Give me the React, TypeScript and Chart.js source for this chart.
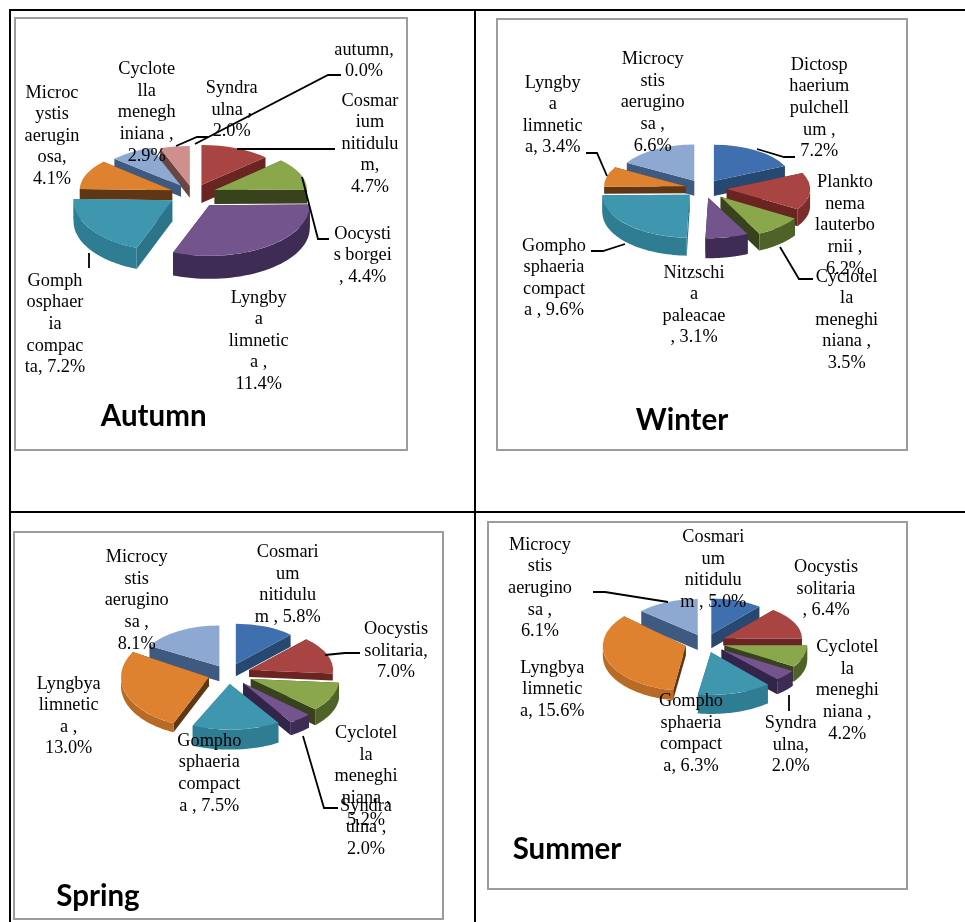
import React, { useEffect, useRef } from "react";
import { Chart, registerables } from "chart.js";

Chart.register(...registerables);

// Percentages per season, clockwise from twelve o'clock.
const autumnValues = [4.7, 4.4, 11.4, 7.2, 4.1, 2.9, 2.0, 0.0];
const winterValues = [7.2, 6.2, 3.5, 3.1, 9.6, 3.4, 6.6];
const springValues = [5.8, 7.0, 5.2, 2.0, 7.5, 13.0, 8.1];
const summerValues = [5.0, 6.4, 4.2, 2.0, 6.3, 15.6, 6.1];

// Wrapped label text; {v} stands for the slice's value.
const autumnLabels = [
  ["Cosmar", "ium", "nitidulu", "m,", "{v}"],
  ["Oocysti", "s borgei", ", {v}"],
  ["Lyngby", "a", "limnetic", "a ,", "{v}"],
  ["Gomph", "osphaer", "ia", "compac", "ta, {v}"],
  ["Microc", "ystis", "aerugin", "osa,", "{v}"],
  ["Cyclote", "lla", "menegh", "iniana ,", "{v}"],
  ["Syndra", "ulna ,", "{v}"],
  ["autumn,", "{v}"],
];
const winterLabels = [
  ["Dictosp", "haerium", "pulchell", "um ,", "{v}"],
  ["Plankto", "nema", "lauterbo", "rnii ,", "{v}"],
  ["Cyclotel", "la", "meneghi", "niana ,", "{v}"],
  ["Nitzschi", "a", "paleacae", ", {v}"],
  ["Gompho", "sphaeria", "compact", "a , {v}"],
  ["Lyngby", "a", "limnetic", "a, {v}"],
  ["Microcy", "stis", "aerugino", "sa ,", "{v}"],
];
const springLabels = [
  ["Cosmari", "um", "nitidulu", "m , {v}"],
  ["Oocystis", "solitaria,", "{v}"],
  ["Cyclotel", "la", "meneghi", "niana ,", "{v}"],
  ["Syndra", "ulna ,", "{v}"],
  ["Gompho", "sphaeria", "compact", "a , {v}"],
  ["Lyngbya", "limnetic", "a ,", "{v}"],
  ["Microcy", "stis", "aerugino", "sa ,", "{v}"],
];
const summerLabels = [
  ["Cosmari", "um", "nitidulu", "m , {v}"],
  ["Oocystis", "solitaria", ", {v}"],
  ["Cyclotel", "la", "meneghi", "niana ,", "{v}"],
  ["Syndra", "ulna,", "{v}"],
  ["Gompho", "sphaeria", "compact", "a, {v}"],
  ["Lyngbya", "limnetic", "a, {v}"],
  ["Microcy", "stis", "aerugino", "sa ,", "{v}"],
];

// Face, rim and cut-face shades for each series colour.
const BLUE = ["#3F6FAE", "#2C4F80", "#274870"];
const RED = ["#A84442", "#7A2D2B", "#6A2422"];
const GREEN = ["#8AA84B", "#4F6227", "#38421C"];
const PURPLE = ["#73548C", "#3E2C55", "#33244A"];
const TEAL = ["#3F97AF", "#2F7D92", "#2C7489"];
const ORANGE = ["#DE8230", "#B96A24", "#5F3714"];
const SKY = ["#8DA9D2", "#5E7BA6", "#3F5A80"];
const PINK = ["#CF8F8D", "#A06C6A", "#6B4544"];

type Panel = {
  title: string;
  values: number[];
  labels: string[][];
  shades: string[][];
  box: number[]; // x, y, width, height of the framed chart
  center: number[];
  radius: number;
  squash: number;
  widen: number;
  tilt: number;
  explode: number[];
  depth: number[];
  stretch: number[]; // per-slice vertical adjustment of the tilt
  labelAt: number[][]; // centre x, first-line y
  titleAt: number[];
  leaders: number[][][];
};

const panels: Panel[] = [
  {
    title: "Autumn",
    values: autumnValues,
    labels: autumnLabels,
    shades: [RED, GREEN, PURPLE, TEAL, ORANGE, SKY, PINK, BLUE],
    box: [14, 17, 394, 434],
    center: [193, 194],
    radius: 95,
    squash: 0.465,
    widen: 0.07,
    tilt: 0.1,
    explode: [23, 24, 27, 24, 23, 23, 20, 20],
    depth: [18, 14, 23, 21, 10, 11, 12, 0],
    stretch: [1, 1, 1.06, 1.09, 1, 1, 1, 1],
    labelAt: [[370, 100.7], [362.7, 234], [258.7, 297.7], [55, 281], [52, 92.7], [146.7, 69.3], [231.7, 88.3], [364, 50]],
    titleAt: [153.7, 416],
    leaders: [
      [[341, 75], [328, 75], [195, 144]],
      [[208, 137], [197, 137], [176, 146]],
      [[335, 149], [237, 149]],
      [[329, 239], [318, 239], [302, 177]],
      [[89, 253], [89, 268]],
    ],
  },
  {
    title: "Winter",
    values: winterValues,
    labels: winterLabels,
    shades: [BLUE, RED, GREEN, PURPLE, TEAL, ORANGE, SKY],
    box: [496, 18, 412, 433],
    center: [703.7, 188.3],
    radius: 83,
    squash: 0.46,
    widen: 0.07,
    tilt: 0.06,
    explode: [20, 23, 24, 20, 19, 19, 20],
    depth: [15, 17, 17, 20, 18, 7, 15],
    stretch: [1, 1, 1.03, 1, 1.08, 1, 1],
    labelAt: [[819.3, 65], [845, 182.3], [846.7, 276.7], [694, 272.7], [554, 245.7], [552.7, 82.7], [652.7, 59.3]],
    titleAt: [682, 420.7],
    leaders: [
      [[795, 157], [784, 157], [757, 149]],
      [[813, 279], [799, 279], [780, 247]],
      [[591, 251], [603, 251], [625, 244]],
      [[586, 153], [597, 153], [607, 176]],
    ],
  },
  {
    title: "Spring",
    values: springValues,
    labels: springLabels,
    shades: [BLUE, RED, GREEN, PURPLE, TEAL, ORANGE, SKY],
    box: [13, 531, 431, 389],
    center: [228.3, 674],
    radius: 86,
    squash: 0.5,
    widen: 0.07,
    tilt: 0.06,
    explode: [22, 23, 24, 22, 19, 20, 19],
    depth: [12, 7, 16, 13, 20, 9, 15],
    stretch: [1, 1, 1, 1.03, 1, 1.15, 1],
    labelAt: [[287.7, 552.3], [396, 629.3], [366, 733.3], [366, 805.7], [209.3, 741], [68.7, 683.7], [136.7, 557.3]],
    titleAt: [98, 896.7],
    leaders: [
      [[360, 653], [345, 653], [325, 655]],
      [[338, 808], [324, 808], [303, 736]],
    ],
  },
  {
    title: "Summer",
    values: summerValues,
    labels: summerLabels,
    shades: [BLUE, RED, GREEN, PURPLE, TEAL, ORANGE, SKY],
    box: [487, 521, 421, 369],
    center: [705, 642.7],
    radius: 81,
    squash: 0.47,
    widen: 0.07,
    tilt: 0.06,
    explode: [20, 21, 20, 21, 20, 20, 19],
    depth: [14, 7, 15, 15, 19, 10, 15],
    stretch: [1, 1, 1, 1, 1.06, 1.15, 1],
    labelAt: [[713.3, 537.3], [826, 567.3], [847.3, 647.3], [790.7, 723.3], [691, 701.3], [552.3, 667.7], [540, 545]],
    titleAt: [567, 849.3],
    leaders: [
      [[593, 592], [605, 592], [668, 602]],
      [[789, 695], [789, 711]],
    ],
  },
];

// Draws the arcs as tilted, extruded wedges and adds labels, leaders and the season name.
function piePlugin(panel: Panel) {
  const [ox, oy] = panel.box;
  return {
    id: "tiltedPie",
    beforeDatasetDraw(chart: any) {
      const ctx: CanvasRenderingContext2D = chart.ctx;
      const arcs: any[] = chart.getDatasetMeta(0).data;
      const order = arcs
        .map((arc, i) => ({ arc, i, mid: (arc.startAngle + arc.endAngle) / 2 }))
        .filter((o) => o.arc.endAngle - o.arc.startAngle > 0)
        .sort((a, b) => Math.sin(a.mid) - Math.sin(b.mid));

      for (const { arc, i, mid } of order) {
        const front = Math.sin(mid);
        const sx = 1 + panel.widen * front;
        const sy = panel.squash * (1 + panel.tilt * front) * panel.stretch[i];
        const e = panel.explode[i];
        const cx = arc.x + e * Math.cos(mid) * sx;
        const cy = arc.y + e * Math.sin(mid) * panel.squash * (1 + panel.tilt * front);
        const r = arc.outerRadius;
        const d = panel.depth[i];
        const [, rim, cut] = panel.shades[i];
        const at = (a: number) => [cx + r * Math.cos(a) * sx, cy + r * Math.sin(a) * sy];

        // Cut faces along both straight edges.
        ctx.fillStyle = cut;
        for (const a of [arc.startAngle, arc.endAngle]) {
          const [px, py] = at(a);
          ctx.beginPath();
          ctx.moveTo(cx, cy);
          ctx.lineTo(px, py);
          ctx.lineTo(px, py + d);
          ctx.lineTo(cx, cy + d);
          ctx.closePath();
          ctx.fill();
        }

        // Outer rim, for the part of the arc that faces the viewer.
        const from = Math.max(arc.startAngle, 0);
        const to = Math.min(arc.endAngle, Math.PI);
        if (to > from) {
          const steps = 40;
          ctx.fillStyle = rim;
          ctx.beginPath();
          for (let s = 0; s <= steps; s++) {
            const [px, py] = at(from + ((to - from) * s) / steps);
            if (s === 0) ctx.moveTo(px, py);
            else ctx.lineTo(px, py);
          }
          for (let s = steps; s >= 0; s--) {
            const [px, py] = at(from + ((to - from) * s) / steps);
            ctx.lineTo(px, py + d);
          }
          ctx.closePath();
          ctx.fill();
        }

        // Top face, drawn by the arc element through the tilt transform.
        ctx.save();
        ctx.translate(cx, cy);
        ctx.scale(sx, sy);
        ctx.translate(-arc.x, -arc.y);
        arc.draw(ctx);
        ctx.restore();
      }
      return false;
    },
    afterDraw(chart: any) {
      const ctx: CanvasRenderingContext2D = chart.ctx;
      ctx.save();
      ctx.strokeStyle = "#000";
      ctx.lineWidth = 1.8;
      for (const line of panel.leaders) {
        ctx.beginPath();
        line.forEach(([x, y], n) => (n ? ctx.lineTo(x - ox, y - oy) : ctx.moveTo(x - ox, y - oy)));
        ctx.stroke();
      }
      ctx.fillStyle = "#000";
      ctx.textAlign = "center";
      ctx.textBaseline = "middle";
      ctx.font = "18.3px 'Liberation Serif'";
      panel.labels.forEach((lines, i) => {
        const [x, y] = panel.labelAt[i];
        const text = `${panel.values[i].toFixed(1)}%`;
        lines.forEach((line, n) => {
          ctx.fillText(line.replace("{v}", text), x - ox, y - oy + n * 21.6);
        });
      });
      ctx.font = "bold 29.5px Lato";
      ctx.fillText(panel.title, panel.titleAt[0] - ox, panel.titleAt[1] - oy);
      ctx.restore();
    },
  };
}

function PieCanvas({ panel }: { panel: Panel }) {
  const ref = useRef<HTMLCanvasElement>(null);
  useEffect(() => {
    const [x, y, w, h] = panel.box;
    const cx = panel.center[0] - x;
    const cy = panel.center[1] - y;
    const r = panel.radius;
    const chart = new Chart(ref.current!, {
      type: "pie",
      data: {
        labels: panel.labels.map((l) => l.join(" ")),
        datasets: [
          {
            data: panel.values,
            backgroundColor: panel.shades.map((s) => s[0]),
            borderWidth: 0,
            offset: 0,
            hoverOffset: 0,
          },
        ],
      },
      options: {
        animation: false,
        responsive: false,
        devicePixelRatio: 1,
        layout: {
          padding: { left: cx - r, right: w - cx - r, top: cy - r, bottom: h - cy - r },
        },
        plugins: { legend: { display: false }, tooltip: { enabled: false } },
      },
      plugins: [piePlugin(panel)],
    } as any);
    return () => chart.destroy();
  }, [panel]);
  const [x, y, w, h] = panel.box;
  return (
    <div
      style={{
        position: "absolute",
        left: x,
        top: y,
        width: w,
        height: h,
        boxSizing: "border-box",
        border: "2px solid #9c9c9c",
        background: "#fff",
      }}
    >
      <canvas
        ref={ref}
        width={w}
        height={h}
        style={{ position: "absolute", left: -2, top: -2, width: w, height: h, display: "block" }}
      />
    </div>
  );
}

// Table rules around the four charts: x, y, width, height.
const rules = [
  [9, 9, 956, 2],
  [9, 9, 2, 913],
  [474, 9, 2, 913],
  [9, 511, 956, 2],
];

export default function App() {
  return (
    <div style={{ position: "absolute", left: 0, top: 0, width: 965, height: 922, overflow: "hidden", background: "#fff" }}>
      {rules.map(([x, y, w, h], i) => (
        <div key={i} style={{ position: "absolute", left: x, top: y, width: w, height: h, background: "#000" }} />
      ))}
      {panels.map((p) => (
        <PieCanvas key={p.title} panel={p} />
      ))}
    </div>
  );
}
